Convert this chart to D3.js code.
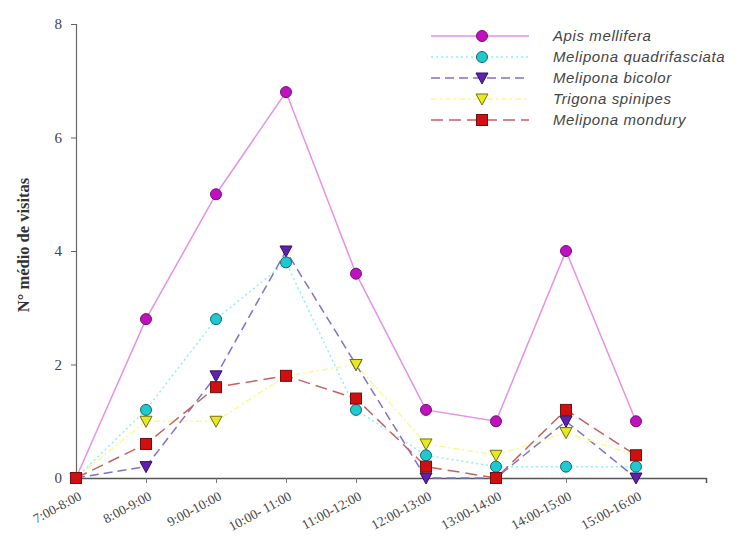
<!DOCTYPE html>
<html>
<head>
<meta charset="utf-8">
<title>Visitas</title>
<script src="https://d3js.org/d3.v7.min.js"></script>
<style>
  body { margin: 0; background: #fff; }
  svg { display: block; }
</style>
</head>
<body>
<svg id="chart" width="740" height="540"></svg>
<script>
// data
var horarios = ["7:00-8:00", "8:00-9:00", "9:00-10:00", "10:00- 11:00", "11:00-12:00",
                "12:00-13:00", "13:00-14:00", "14:00-15:00", "15:00-16:00"];
var apis      = [0, 2.8, 5.0, 6.8, 3.6, 1.2, 1.0, 4.0, 1.0];
var quadri    = [0, 1.2, 2.8, 3.8, 1.2, 0.4, 0.2, 0.2, 0.2];
var bicolor   = [0, 0.2, 1.8, 4.0, 2.0, 0, 0, 1.0, 0];
var trigona   = [0, 1.0, 1.0, 1.8, 2.0, 0.6, 0.4, 0.8, 0.4];
var mondury   = [0, 0.6, 1.6, 1.8, 1.4, 0.2, 0, 1.2, 0.4];
var yTicks = [0, 2, 4, 6, 8];

var series = [
  {name: "Apis mellifera", v: apis, line: "#e690e6", dash: null, fill: "#c010c0", stroke: "#701070", shape: "circle"},
  {name: "Melipona quadrifasciata", v: quadri, line: "#8ff0f5", dash: "2,3", fill: "#20c8d0", stroke: "#106870", shape: "circle"},
  {name: "Melipona bicolor", v: bicolor, line: "#8070c8", dash: "9,5", fill: "#6020b0", stroke: "#301060", shape: "tri"},
  {name: "Trigona spinipes", v: trigona, line: "#fafa90", dash: "6,3,2,3", fill: "#e8e820", stroke: "#707010", shape: "tri"},
  {name: "Melipona mondury", v: mondury, line: "#c86060", dash: "12,6", fill: "#d01010", stroke: "#701010", shape: "square"}
];

var svg = d3.select("#chart");
var x = d3.scaleLinear().domain([0, 9]).range([76, 706]);
var y = d3.scaleLinear().domain([0, 8]).range([478, 24]);

// axes
var yAxis = d3.axisLeft(y).tickValues(yTicks).tickSize(5).tickPadding(9);
var gy = svg.append("g").attr("transform", "translate(76,0)").call(yAxis);
gy.select(".domain").attr("stroke", "#666").attr("stroke-width", 1.2);
gy.selectAll(".tick line").attr("stroke", "#666");
gy.selectAll("text").attr("font-family", "Liberation Serif, serif").attr("font-size", 15).attr("fill", "#444");

var xAxis = d3.axisBottom(x).tickValues(d3.range(horarios.length)).tickSize(5).tickFormat(function(i){ return horarios[i]; });
var gx = svg.append("g").attr("transform", "translate(0,478)").call(xAxis);
gx.select(".domain").attr("stroke", "#555").attr("stroke-width", 1.5);
gx.selectAll(".tick line").attr("stroke", "#777");
gx.selectAll("text")
  .attr("font-family", "Liberation Serif, serif").attr("font-size", 13.5).attr("fill", "#444")
  .attr("text-anchor", "end")
  .attr("dy", null).attr("y", 0)
  .attr("transform", "translate(6,21) rotate(-28)");

svg.append("text")
  .attr("transform", "translate(29,245) rotate(-90)")
  .attr("text-anchor", "middle")
  .attr("font-family", "Liberation Serif, serif").attr("font-weight", "bold").attr("font-size", 16.5)
  .attr("fill", "#333")
  .text("N° médio de visitas");

// lines
var line = d3.line().x(function(d, i){ return x(i); }).y(function(d){ return y(d); });
series.forEach(function(s){
  svg.append("path").datum(s.v)
    .attr("d", line).attr("fill", "none")
    .attr("stroke", s.line).attr("stroke-width", 1.5)
    .attr("stroke-dasharray", s.dash);
});

function marker(g, s, cx, cy){
  if (s.shape == "circle") {
    g.append("circle").attr("cx", cx).attr("cy", cy).attr("r", 5.5)
      .attr("fill", s.fill).attr("stroke", s.stroke).attr("stroke-width", 1);
  } else if (s.shape == "square") {
    g.append("rect").attr("x", cx - 5.5).attr("y", cy - 5.5).attr("width", 11).attr("height", 11)
      .attr("fill", s.fill).attr("stroke", s.stroke).attr("stroke-width", 1);
  } else {
    g.append("path").attr("d", "M" + (cx - 6) + "," + (cy - 5) + "L" + (cx + 6) + "," + (cy - 5) + "L" + cx + "," + (cy + 6) + "Z")
      .attr("fill", s.fill).attr("stroke", s.stroke).attr("stroke-width", 1);
  }
}

// markers, drawn in overlap order
var order = [0, 2, 1, 3, 4];
var gm = svg.append("g");
order.forEach(function(k){
  var s = series[k];
  s.v.forEach(function(d, i){ marker(gm, s, x(i), y(d)); });
});

// legend
var lg = svg.append("g");
series.forEach(function(s, i){
  var ly = 36 + i * 21;
  lg.append("line").attr("x1", 431).attr("x2", 529).attr("y1", ly).attr("y2", ly)
    .attr("stroke", s.line).attr("stroke-width", 1.5).attr("stroke-dasharray", s.dash);
  marker(lg, s, 482, ly);
  lg.append("text").attr("x", 553).attr("y", ly + 5)
    .attr("font-family", "Liberation Sans, Arial, sans-serif").attr("font-style", "italic")
    .attr("font-size", 15).attr("letter-spacing", 0.6).attr("fill", "#444")
    .text(s.name);
});
</script>
</body>
</html>
